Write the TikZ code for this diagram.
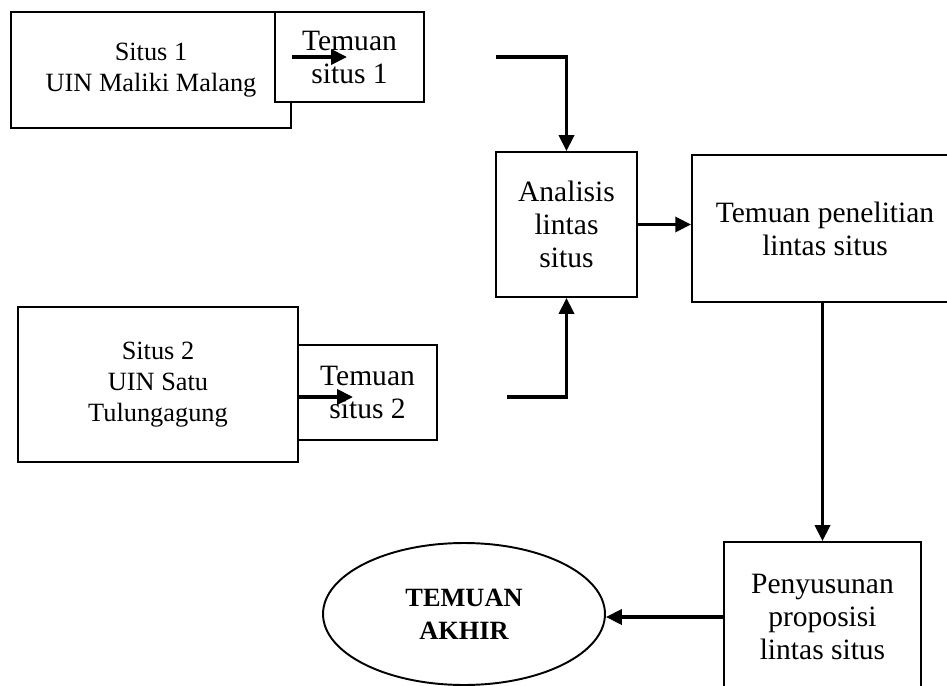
\documentclass[tikz,border=0pt]{standalone}
\usepackage{fontspec}
\setmainfont{Liberation Serif}
\usetikzlibrary{arrows.meta,shapes.geometric}

\begin{document}
\begin{tikzpicture}[x=0.02cm,y=-0.02cm,
	box/.style={draw,line width=1.1pt,inner sep=0pt,fill=white,align=center,font=\fontsize{16.8}{18.8}\selectfont},
	situs/.style={box,font=\fontsize{15}{17.6}\selectfont},
	arr/.style={line width=2pt,-{Triangle[length=9pt,width=8.5pt]}}]
	\useasboundingbox (0,0) rectangle (947,686);
	\clip (0,0) rectangle (947,686);
	% situs 1 dan temuannya
	\node[situs,minimum width=5.6cm,minimum height=2.32cm] (s1) at (151,70) {Situs 1\\UIN Maliki Malang};
	\node[box,minimum width=2.98cm,minimum height=1.8cm] (t1) at (349.5,57) {Temuan\\situs 1};
	\coordinate (e1) at (347,57);
	\draw[arr] (s1.east |- e1) -- (e1);
	% situs 2 dan temuannya
	\node[situs,minimum width=5.6cm,minimum height=3.1cm] (s2) at (158,384.5) {Situs 2\\UIN Satu\\Tulungagung};
	\node[box,minimum width=2.78cm,minimum height=1.9cm] (t2) at (367.5,392.5) {Temuan\\situs 2};
	\coordinate (e2) at (353,397);
	\draw[arr] (s2.east |- e2) -- (e2);
	% analisis lintas situs
	\node[box,minimum width=2.82cm,minimum height=2.9cm] (an) at (566.5,224.5) {Analisis\\lintas\\situs};
	\node[box,minimum width=5.32cm,minimum height=2.94cm] (tp) at (825,228.5) {Temuan penelitian\\lintas situs};
	\node[box,minimum width=3.94cm,minimum height=3cm] (py) at (822.5,617) {Penyusunan\\proposisi\\lintas situs};
	\node[box,ellipse,minimum width=5.64cm,minimum height=2.84cm,font=\fontsize{15}{18.7}\selectfont\bfseries] (el) at (464,614) {TEMUAN\\AKHIR};
	\coordinate (a1) at (496,57);
	\coordinate (a2) at (507,397);
	\draw[arr] (a1) -- (a1 -| an.north) -- (an.north);
	\draw[arr] (a2) -- (a2 -| an.south) -- (an.south);
	\draw[arr] (an.east) -- (tp.west |- an.east);
	\draw[arr] (tp.south -| py.north) -- (py.north);
	\draw[arr] (py.west) -- (py.west -| el.east);
\end{tikzpicture}
\end{document}
